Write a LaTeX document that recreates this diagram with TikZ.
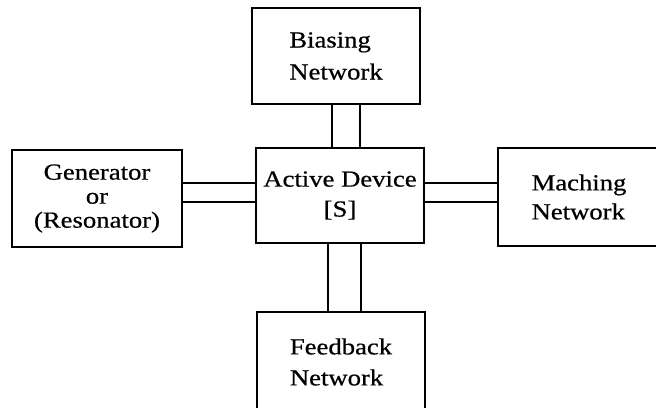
\documentclass[tikz,border=0pt]{standalone}
\usepackage{graphicx}
\usepackage{fontspec}
\setmainfont{Liberation Serif}[FakeBold=0.6]
\newcommand\wl[1]{\scalebox{1.16}[1]{#1}}
\begin{document}
\begin{tikzpicture}[x=1pt,y=-1pt,
  blk/.style={draw, line width=2.8pt, rectangle, inner sep=0pt, outer sep=0pt},
  wire/.style={line width=2.2pt}]
\useasboundingbox (0,0) rectangle (656,407);
\clip (0,0) rectangle (656,407);
\node[blk, minimum width=168pt, minimum height=96pt, align=left,
      font=\fontsize{23}{32}\selectfont] (bias) at (336,56) {\wl{Biasing}\\\wl{Network}};
\node[blk, minimum width=170pt, minimum height=97pt, align=center,
      font=\fontsize{23}{24}\selectfont] (gen) at (97,198.5) {\wl{Generator}\\\wl{or}\\\wl{(Resonator)}};
\node[blk, minimum width=168pt, minimum height=95pt, align=center,
      font=\fontsize{23}{30}\selectfont] (act) at (340,195.5) {\wl{Active Device}\\\wl{[S]}};
\node[blk, minimum width=162pt, minimum height=98pt, align=left,
      font=\fontsize{23}{29}\selectfont] (mach) at (579,197) {\wl{Maching}\\\wl{Network}};
\node[blk, minimum width=168pt, minimum height=100pt, align=left,
      font=\fontsize{23}{31}\selectfont] (feed) at (341,362) {\wl{Feedback}\\\wl{Network}};
% top connector
\draw[wire] ([xshift=-8pt]act.north) -- ([xshift=-8pt]act.north |- bias.south);
\draw[wire] ([xshift=20pt]act.north) -- ([xshift=20pt]act.north |- bias.south);
% bottom connector
\draw[wire] ([xshift=-12pt]act.south) -- ([xshift=-12pt]act.south |- feed.north);
\draw[wire] ([xshift=21pt]act.south) -- ([xshift=21pt]act.south |- feed.north);
% left connector
\draw[wire] ([yshift=12.5pt]act.west) -- ([yshift=12.5pt]act.west -| gen.east);
\draw[wire] ([yshift=-6.5pt]act.west) -- ([yshift=-6.5pt]act.west -| gen.east);
% right connector
\draw[wire] ([yshift=12.5pt]act.east) -- ([yshift=12.5pt]act.east -| mach.west);
\draw[wire] ([yshift=-6.5pt]act.east) -- ([yshift=-6.5pt]act.east -| mach.west);
\end{tikzpicture}
\end{document}
